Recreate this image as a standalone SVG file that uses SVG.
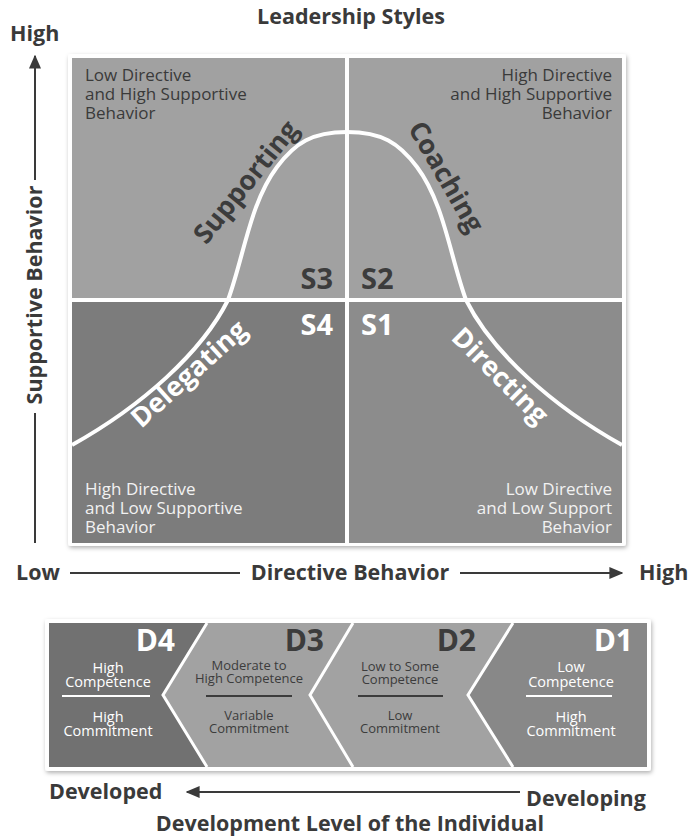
<svg xmlns="http://www.w3.org/2000/svg" width="690" height="837" viewBox="0 0 690 837">
<defs>
<filter id="sh" x="-5%" y="-5%" width="110%" height="115%"><feDropShadow dx="1" dy="2" stdDeviation="2" flood-color="#000" flood-opacity="0.3"/></filter>
<marker id="ah" viewBox="0 0 10 10" refX="9" refY="5" markerWidth="7" markerHeight="6" orient="auto-start-reverse" markerUnits="strokeWidth" preserveAspectRatio="none"><path d="M0,0 L10,5 L0,10 z" fill="#3a3a3a"/></marker>
<style>
text{font-family:"Open Sans","Liberation Sans",sans-serif}
.ax{font-size:21.5px;font-weight:bold;fill:#3a3a3a}
.q{font-size:17px;fill:#3a3a3a}
.qw{font-size:17px;fill:#f2f2f2}
.s{font-size:29px;font-weight:bold}
.st{font-size:27px;font-weight:bold}
.dk{fill:#3c3c3c}
.wt{fill:#ffffff}
.d{font-size:30px;font-weight:bold}
.dt{font-size:14.5px;text-anchor:middle}
.ds{font-size:13px;text-anchor:middle}
.ln{stroke:#3a3a3a;stroke-width:2;fill:none}
.wl{stroke:#ffffff;fill:none}
</style>
</defs>
<rect width="690" height="837" fill="#ffffff"/>
<text id="title" x="351" y="24" text-anchor="middle" class="ax">Leadership Styles</text>

<g id="grid">
<rect x="68" y="54" width="558" height="492" rx="3" fill="#ffffff" filter="url(#sh)"/>
<g id="q-tl"><rect x="72" y="58" width="275" height="242" fill="#a1a1a1"/>
<text class="q" x="85" y="81">Low Directive</text><text class="q" x="85" y="100">and High Supportive</text><text class="q" x="85" y="119">Behavior</text></g>
<g id="q-tr"><rect x="347" y="58" width="275" height="242" fill="#a1a1a1"/>
<text class="q" x="612" y="81" text-anchor="end">High Directive</text><text class="q" x="612" y="100" text-anchor="end">and High Supportive</text><text class="q" x="612" y="119" text-anchor="end">Behavior</text></g>
<g id="q-bl"><rect x="72" y="300" width="275" height="243" fill="#7c7c7c"/>
<text class="qw" x="85" y="495">High Directive</text><text class="qw" x="85" y="514">and Low Supportive</text><text class="qw" x="85" y="533">Behavior</text></g>
<g id="q-br"><rect x="347" y="300" width="275" height="243" fill="#8c8c8c"/>
<text class="qw" x="612" y="495" text-anchor="end">Low Directive</text><text class="qw" x="612" y="514" text-anchor="end">and Low Support</text><text class="qw" x="612" y="533" text-anchor="end">Behavior</text></g>
<line class="wl" x1="347" y1="58" x2="347" y2="543" stroke-width="4"/>
<line class="wl" x1="72" y1="300" x2="622" y2="300" stroke-width="4"/>
<path id="curve" class="wl" stroke-width="4" d="M72 445 C142 406 202 352 228 300 C244 256 250 203 277 167 C295 143 312 132 347 132 C382 132 399 143 417 167 C444 203 450 256 466 300 C492 352 552 406 622 445"/>
<g id="s3"><text class="s dk" x="333" y="289" text-anchor="end">S3</text></g>
<g id="s2"><text class="s dk" x="361" y="289">S2</text></g>
<g id="s4"><text class="s wt" x="333" y="335" text-anchor="end">S4</text></g>
<g id="s1"><text class="s wt" x="361" y="335">S1</text></g>
<g id="supporting"><text class="st dk" text-anchor="middle" transform="translate(246,182) rotate(-51)" y="9">Supporting</text></g>
<g id="coaching"><text class="st dk" text-anchor="middle" transform="translate(446,177) rotate(60)" y="9">Coaching</text></g>
<g id="delegating"><text class="st wt" text-anchor="middle" transform="translate(189,374) rotate(-42)" y="9">Delegating</text></g>
<g id="directing"><text class="st wt" text-anchor="middle" transform="translate(500,376) rotate(45)" y="9">Directing</text></g>
</g>

<g id="axes">
<text class="ax" x="10" y="41">High</text>
<text class="ax" text-anchor="middle" transform="translate(42,295) rotate(-90)">Supportive Behavior</text>
<text class="ax" x="16" y="580">Low</text>
<text class="ax" x="350" y="580" text-anchor="middle">Directive Behavior</text>
<text class="ax" x="639" y="580">High</text>
</g>

<g id="bottom">
<rect x="45" y="619" width="606" height="152" rx="3" fill="#ffffff" filter="url(#sh)"/>
<g id="d4"><polygon points="49,623 207,623 163,695 207,767 49,767" fill="#717171"/>
<text class="d wt" x="175" y="651" text-anchor="end">D4</text>
<text class="dt wt" x="108" y="673">High</text><text class="dt wt" x="108" y="687">Competence</text>
<line x1="62" y1="696" x2="150" y2="696" stroke="#fff" stroke-width="2"/>
<text class="dt wt" x="108" y="722">High</text><text class="dt wt" x="108" y="736">Commitment</text></g>
<g id="d3"><polygon points="207,623 353,623 310,695 353,767 207,767 163,695" fill="#a2a2a2"/>
<text class="d dk" x="324" y="651" text-anchor="end">D3</text>
<text class="ds dk" x="249" y="670">Moderate to</text><text class="ds dk" x="249" y="683">High Competence</text>
<line x1="206" y1="696" x2="292" y2="696" stroke="#3c3c3c" stroke-width="2"/>
<text class="ds dk" x="249" y="720">Variable</text><text class="ds dk" x="249" y="733">Commitment</text></g>
<g id="d2"><polygon points="353,623 513,623 468,695 513,767 353,767 310,695" fill="#a2a2a2"/>
<text class="d dk" x="476" y="651" text-anchor="end">D2</text>
<text class="ds dk" x="400" y="671">Low to Some</text><text class="ds dk" x="400" y="684">Competence</text>
<line x1="358" y1="696" x2="443" y2="696" stroke="#3c3c3c" stroke-width="2"/>
<text class="ds dk" x="400" y="720">Low</text><text class="ds dk" x="400" y="733">Commitment</text></g>
<g id="d1"><polygon points="513,623 647,623 647,767 513,767 468,695" fill="#888888"/>
<text class="d wt" x="633" y="651" text-anchor="end">D1</text>
<text class="dt wt" x="571" y="672">Low</text><text class="dt wt" x="571" y="687">Competence</text>
<line x1="526" y1="696" x2="612" y2="696" stroke="#fff" stroke-width="2"/>
<text class="dt wt" x="571" y="722">High</text><text class="dt wt" x="571" y="736">Commitment</text></g>
<polyline class="wl" stroke-width="3" points="207,623 163,695 207,767"/>
<polyline class="wl" stroke-width="3" points="353,623 310,695 353,767"/>
<polyline class="wl" stroke-width="3" points="513,623 468,695 513,767"/>
<text class="ax" x="49" y="799">Developed</text>
<text class="ax" x="526" y="806">Developing</text>
<text class="ax" x="350" y="831" text-anchor="middle">Development Level of the Individual</text>
</g>

<g id="connectors">
<line class="ln" x1="35" y1="180" x2="35" y2="56" marker-end="url(#ah)"/>
<line class="ln" x1="35" y1="413" x2="35" y2="543"/>
<line class="ln" x1="70" y1="573" x2="240" y2="573"/>
<line class="ln" x1="460" y1="573" x2="622" y2="573" marker-end="url(#ah)"/>
<line class="ln" x1="520" y1="792" x2="187" y2="792" marker-end="url(#ah)"/>
</g>
</svg>
